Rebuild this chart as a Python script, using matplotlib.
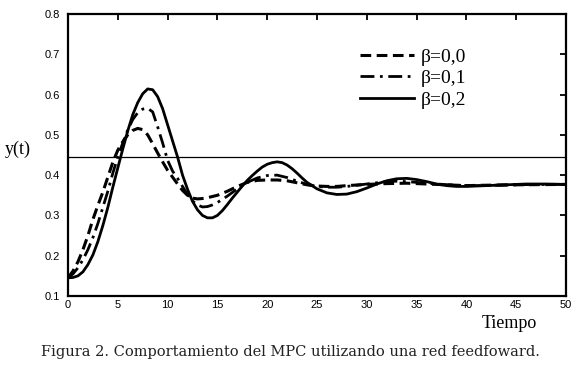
import matplotlib
matplotlib.use("Agg")
import matplotlib.pyplot as plt

# Data
t_b0 = [0, 0.5, 1, 1.5, 2, 2.5, 3, 3.5, 4, 4.5, 5, 5.5, 6, 6.5, 7, 7.5, 8, 8.5, 9, 9.5, 10, 10.5, 11, 11.5,
        12, 12.5, 13, 13.5, 14, 15, 16, 17, 18, 19, 20, 21, 22, 23, 24, 25, 26, 27, 28, 30, 32, 34, 36, 38,
        40, 42, 45, 50]
y_b0 = [0.145, 0.162, 0.185, 0.215, 0.25, 0.29, 0.325, 0.358, 0.395, 0.432, 0.462, 0.483, 0.5, 0.511, 0.516,
        0.513, 0.5, 0.478, 0.455, 0.433, 0.412, 0.395, 0.378, 0.362, 0.35, 0.343, 0.341, 0.342, 0.344, 0.35,
        0.36, 0.372, 0.382, 0.387, 0.388, 0.388, 0.386, 0.381, 0.376, 0.373, 0.372, 0.372, 0.374, 0.377,
        0.379, 0.38, 0.378, 0.376, 0.374, 0.375, 0.376, 0.377]

t_b1 = [0, 0.5, 1, 1.5, 2, 2.5, 3, 3.5, 4, 4.5, 5, 5.5, 6, 6.5, 7, 7.5, 8, 8.5, 9, 9.5, 10, 10.5, 11, 11.5,
        12, 12.5, 13, 13.5, 14, 14.5, 15, 16, 17, 18, 19, 20, 21, 22, 23, 24, 25, 26, 27, 28, 29, 30, 31, 32,
        33, 34, 35, 37, 39, 41, 43, 45, 47, 50]
y_b1 = [0.145, 0.155, 0.17, 0.19, 0.215, 0.245, 0.28, 0.32, 0.36, 0.405, 0.445, 0.48, 0.512, 0.538, 0.555,
        0.564, 0.566, 0.557, 0.52, 0.48, 0.437, 0.41, 0.392, 0.372, 0.352, 0.336, 0.326, 0.321, 0.322, 0.326,
        0.332, 0.348, 0.366, 0.382, 0.393, 0.399, 0.4, 0.394, 0.385, 0.377, 0.372, 0.37, 0.37, 0.372, 0.375,
        0.378, 0.381, 0.384, 0.385, 0.384, 0.382, 0.378, 0.375, 0.374, 0.375, 0.376, 0.377, 0.377]

t_b2 = [0, 0.5, 1, 1.5, 2, 2.5, 3, 3.5, 4, 4.5, 5, 5.5, 6, 6.5, 7, 7.5, 8, 8.5, 9, 9.5, 10, 10.5, 11, 11.5,
        12, 12.5, 13, 13.5, 14, 14.5, 15, 15.5, 16, 16.5, 17, 17.5, 18, 18.5, 19, 19.5, 20, 20.5, 21, 21.5,
        22, 22.5, 23, 23.5, 24, 25, 26, 27, 28, 29, 30, 31, 32, 33, 34, 35, 36, 37, 38, 39, 40, 42, 44, 46,
        48, 50]
y_b2 = [0.145, 0.146, 0.15, 0.16, 0.178, 0.202, 0.235, 0.275, 0.32, 0.37, 0.418, 0.465, 0.51, 0.55, 0.58,
        0.602, 0.614, 0.612, 0.595, 0.565, 0.525, 0.485, 0.445, 0.4, 0.365, 0.335, 0.314, 0.3, 0.294, 0.294,
        0.3, 0.312, 0.327, 0.343, 0.358, 0.373, 0.387, 0.399, 0.41, 0.42, 0.427, 0.431, 0.433, 0.431, 0.425,
        0.416, 0.405, 0.393, 0.382, 0.366, 0.356, 0.352, 0.353, 0.359, 0.368, 0.378, 0.386, 0.391, 0.392,
        0.389, 0.384, 0.378, 0.374, 0.372, 0.372, 0.374, 0.376, 0.378, 0.378, 0.377]

ref_level = 0.445
labels = ["\u03b2=0,0", "\u03b2=0,1", "\u03b2=0,2"]
x_ticks = [0, 5, 10, 15, 20, 25, 30, 35, 40, 45, 50]
y_ticks = [0.1, 0.2, 0.3, 0.4, 0.5, 0.6, 0.7, 0.8]

serif = "Liberation Serif"
sans = "Liberation Sans"

fig = plt.figure(figsize=(5.78, 3.65), dpi=100)
ax = fig.add_axes([68 / 578, 69 / 365, (566 - 68) / 578, (296 - 14) / 365])

ax.plot(t_b0, y_b0, color="black", lw=2.2, linestyle=(0, (3.5, 1.8)), label=labels[0])
ax.plot(t_b1, y_b1, color="black", lw=2.0, linestyle=(0, (5, 2, 1, 2)), label=labels[1])
ax.plot(t_b2, y_b2, color="black", lw=2.0, linestyle="-", label=labels[2])
ax.axhline(ref_level, color="black", lw=0.9, xmin=0, xmax=1)

ax.set_xlim(0, 50)
ax.set_ylim(0.1, 0.8)
ax.set_xticks(x_ticks)
ax.set_yticks(y_ticks)
ax.set_xticklabels([str(v) for v in x_ticks], fontfamily=sans, fontsize=8)
ax.set_yticklabels([f"{v:.1f}" for v in y_ticks], fontfamily=sans, fontsize=8)
ax.tick_params(direction="in", top=True, right=True, bottom=False, left=False,
               length=4, width=1.3)
ax.tick_params(axis="y", pad=6)
ax.tick_params(axis="x", pad=3)
for s in ax.spines.values():
    s.set_linewidth(1.6)

fig.text(5 / 578, 1 - 149 / 365, "y(t)", fontfamily=serif, fontsize=13, va="center", ha="left")
fig.text(537 / 578, 1 - 324 / 365, "Tiempo", fontfamily=serif, fontsize=13, va="center", ha="right")
fig.text(290 / 578, 1 - 352 / 365, "Figura 2. Comportamiento del MPC utilizando una red feedfoward.",
         fontfamily="DejaVu Serif", fontsize=10.5, va="center", ha="center", color="#222222")

leg = ax.legend(loc="upper left", bbox_to_anchor=(360 / 578, 1 - 48 / 365), bbox_transform=fig.transFigure,
                frameon=False, prop={"family": serif, "size": 14}, handlelength=2.8,
                handletextpad=0.35, labelspacing=0.2, borderpad=0, borderaxespad=0)

fig.savefig("out.png", dpi=100)
